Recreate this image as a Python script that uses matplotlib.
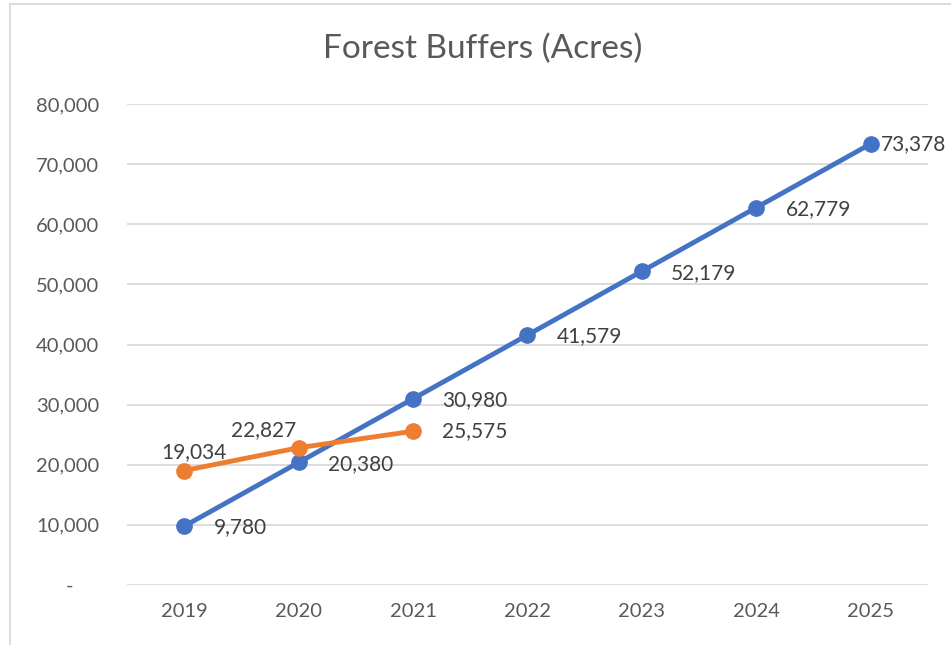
import matplotlib
matplotlib.use("Agg")
import matplotlib.pyplot as plt
from matplotlib.patches import Rectangle
from matplotlib.ticker import FuncFormatter

years = ["2019", "2020", "2021", "2022", "2023", "2024", "2025"]
planned = [9780, 20380, 30980, 41579, 52179, 62779, 73378]
actual_years = ["2019", "2020", "2021"]
actual = [19034, 22827, 25575]
yticks = [0, 10000, 20000, 30000, 40000, 50000, 60000, 70000, 80000]
title = "Forest Buffers (Acres)"

BLUE = "#4472C4"
ORANGE = "#ED7D31"
TXT = "#595959"
GRID = "#D9D9D9"
FONT = ["Lato", "DejaVu Sans"]
plt.rcParams["font.family"] = FONT

fig = plt.figure(figsize=(9.51, 6.45), dpi=100)
ax = fig.add_axes([127/951, 60/645, (928-127)/951, (585-104)/645])

xb = list(range(len(years)))
xo = [years.index(y) for y in actual_years]

ax.plot(xb, planned, color=BLUE, lw=3.5, marker="o", ms=11, solid_capstyle="round", zorder=3)
ax.plot(xo, actual, color=ORANGE, lw=3.5, marker="o", ms=11, solid_capstyle="round", zorder=4)

FS = 14.5
LFS = 15
# data labels (offsets in points)
blue_off = [(21, -1)] * (len(planned) - 1) + [(7, 0)]
for x, v, off in zip(xb, planned, blue_off):
    ax.annotate(f"{v:,}", (x, v), xytext=off, textcoords="offset points",
                ha="left", va="center", fontsize=LFS, color="#404040")
orange_off = [(7, 13, "center"), (-2, 13, "right"), (21, 0, "left")]
for x, v, (dx, dy, ha) in zip(xo, actual, orange_off):
    ax.annotate(f"{v:,}", (x, v), xytext=(dx, dy), textcoords="offset points",
                ha=ha, va="center", fontsize=LFS, color="#404040")

ax.set_xlim(-0.5, len(years) - 0.5)
ax.set_ylim(0, 80000)
ax.set_xticks(xb)
ax.set_xticklabels(years)
ax.set_yticks(yticks)
ax.yaxis.set_major_formatter(FuncFormatter(lambda v, p: "-     " if v == 0 else f"{int(v):,}"))
ax.tick_params(axis="both", length=0, labelsize=FS, labelcolor=TXT)
ax.tick_params(axis="y", pad=20)
ax.tick_params(axis="x", pad=13)
ax.grid(axis="y", color=GRID, lw=1.3)
ax.set_axisbelow(True)
for s in ax.spines.values():
    s.set_visible(False)

fig.text(483/951, 1 - 49/645, title, ha="center", va="center", fontsize=24, color=TXT)

fig.patches.append(Rectangle((10/951, -0.1), 1.5, 1 - 4/645 + 0.1, transform=fig.transFigure,
                             fill=False, edgecolor=GRID, lw=1.3))

fig.savefig("out.png", dpi=100)
